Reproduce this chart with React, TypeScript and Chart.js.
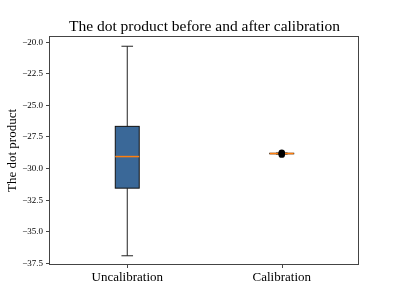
import React, { useEffect, useRef } from "react";
import { Chart, registerables } from "chart.js";

Chart.register(...registerables);

const titleText = "The dot product before and after calibration";
const categories = ["Uncalibration", "Calibration"];
const positions = [1, 2];
const whiskerLow = [-36.9, -28.85];
const q1 = [-31.55, -28.83];
const medians = [-29.05, -28.81];
const q3 = [-26.66, -28.79];
const whiskerHigh = [-20.32, -28.77];
const outliersX = [2, 2, 2];
const outliersY = [-28.9, -28.8, -28.75];
const yTicks = [-20, -22.5, -25, -27.5, -30, -32.5, -35, -37.5];

const BOX_W = 0.155;
const CAP_W = 0.075;
const serif = "'Liberation Serif', 'DejaVu Serif', serif";

const boxPlugin = {
  id: "boxes",
  afterDatasetsDraw(chart: any) {
    const { ctx, scales } = chart;
    const xs = scales.x;
    const ys = scales.y;
    ctx.save();
    positions.forEach((p, i) => {
      const xc = xs.getPixelForValue(p);
      const xl = xs.getPixelForValue(p - BOX_W / 2);
      const xr = xs.getPixelForValue(p + BOX_W / 2);
      const cl = xs.getPixelForValue(p - CAP_W / 2);
      const cr = xs.getPixelForValue(p + CAP_W / 2);
      const yq1 = ys.getPixelForValue(q1[i]);
      const yq3 = ys.getPixelForValue(q3[i]);
      const ymed = ys.getPixelForValue(medians[i]);
      const ylo = ys.getPixelForValue(whiskerLow[i]);
      const yhi = ys.getPixelForValue(whiskerHigh[i]);
      ctx.strokeStyle = "#222";
      ctx.lineWidth = 1;
      ctx.beginPath();
      ctx.moveTo(xc, yq1);
      ctx.lineTo(xc, ylo);
      ctx.moveTo(xc, yq3);
      ctx.lineTo(xc, yhi);
      ctx.moveTo(cl, ylo);
      ctx.lineTo(cr, ylo);
      ctx.moveTo(cl, yhi);
      ctx.lineTo(cr, yhi);
      ctx.stroke();
      ctx.fillStyle = "#3a6898";
      ctx.fillRect(xl, yq3, xr - xl, yq1 - yq3);
      ctx.strokeStyle = "#111";
      ctx.strokeRect(xl, yq3, xr - xl, yq1 - yq3);
      ctx.strokeStyle = "#ff7f0e";
      ctx.lineWidth = 1.5;
      ctx.beginPath();
      ctx.moveTo(xl, ymed);
      ctx.lineTo(xr, ymed);
      ctx.stroke();
    });
    ctx.fillStyle = "#000";
    outliersX.forEach((x, i) => {
      const px = xs.getPixelForValue(x);
      const py = ys.getPixelForValue(outliersY[i]);
      ctx.beginPath();
      ctx.arc(px, py, 3.2, 0, Math.PI * 2);
      ctx.fill();
    });
    ctx.restore();
  },
};

const fmt = (v: number) => {
  const s = Math.abs(v).toFixed(1);
  return v < 0 ? "\u2212" + s : s;
};

export default function App() {
  const ref = useRef<HTMLCanvasElement>(null);
  useEffect(() => {
    if (!ref.current) return;
    const chart = new Chart(ref.current, {
      type: "scatter",
      data: {
        datasets: [
          {
            data: outliersX.map((x, i) => ({ x, y: outliersY[i] })),
            pointRadius: 0,
            showLine: false,
          },
        ],
      },
      options: {
        animation: false,
        responsive: false,
        maintainAspectRatio: false,
        layout: { padding: { left: 0, right: 40, top: 36, bottom: 0 } },
        plugins: {
          legend: { display: false },
          tooltip: { enabled: false },
          title: { display: false },
        },
        scales: {
          x: {
            type: "linear",
            min: 0.5,
            max: 2.5,
            afterBuildTicks: (s: any) => {
              s.ticks = positions.map((v) => ({ value: v }));
            },
            afterFit: (s: any) => {
              s.height = 34;
            },
            ticks: {
              color: "#000",
              font: { family: serif, size: 13 },
              padding: 5,
              maxRotation: 0,
              autoSkip: false,
              callback: (v: any) => categories[positions.indexOf(Number(v))] ?? "",
            },
            grid: { display: false, drawTicks: false, tickLength: 0 },
            border: { display: false },
          },
          y: {
            type: "linear",
            min: -37.63,
            max: -19.51,
            afterBuildTicks: (s: any) => {
              s.ticks = yTicks.map((v) => ({ value: v }));
            },
            afterFit: (s: any) => {
              s.width = 50;
            },
            ticks: {
              color: "#000",
              font: { family: serif, size: 9 },
              padding: 3,
              autoSkip: false,
              callback: (v: any) => fmt(Number(v)),
            },
            grid: {
              display: true,
              drawOnChartArea: false,
              drawTicks: true,
              tickLength: 4,
              color: "#444",
            },
            border: { display: false },
            title: {
              display: true,
              text: "The dot product",
              color: "#000",
              font: { family: serif, size: 13 },
              padding: { top: 5, bottom: 0 },
            },
          },
        },
      },
      plugins: [
        boxPlugin,
        {
          id: "frameAndTitle",
          afterDraw(c: any) {
            const { ctx, chartArea: a, scales } = c;
            ctx.save();
            ctx.strokeStyle = "#444";
            ctx.lineWidth = 1;
            ctx.strokeRect(
              Math.round(a.left) - 0.5,
              Math.round(a.top) + 0.5,
              Math.round(a.right) - Math.round(a.left),
              Math.round(a.bottom) - Math.round(a.top) - 1
            );
            ctx.beginPath();
            positions.forEach((p) => {
              const px = Math.round(scales.x.getPixelForValue(p)) + 0.5;
              ctx.moveTo(px, Math.round(a.bottom));
              ctx.lineTo(px, Math.round(a.bottom) + 3);
            });
            ctx.stroke();
            ctx.fillStyle = "#000";
            ctx.font = `15.5px ${serif}`;
            ctx.textAlign = "center";
            ctx.textBaseline = "middle";
            ctx.fillText(titleText, (a.left + a.right) / 2, a.top - 9.5);
            ctx.restore();
          },
        },
      ],
    } as any);
    return () => chart.destroy();
  }, []);
  return (
    <div style={{ position: "fixed", left: 0, top: 0, width: 399, height: 299, background: "#fff" }}>
      <canvas ref={ref} width={399} height={299} style={{ width: 399, height: 299 }} />
    </div>
  );
}
